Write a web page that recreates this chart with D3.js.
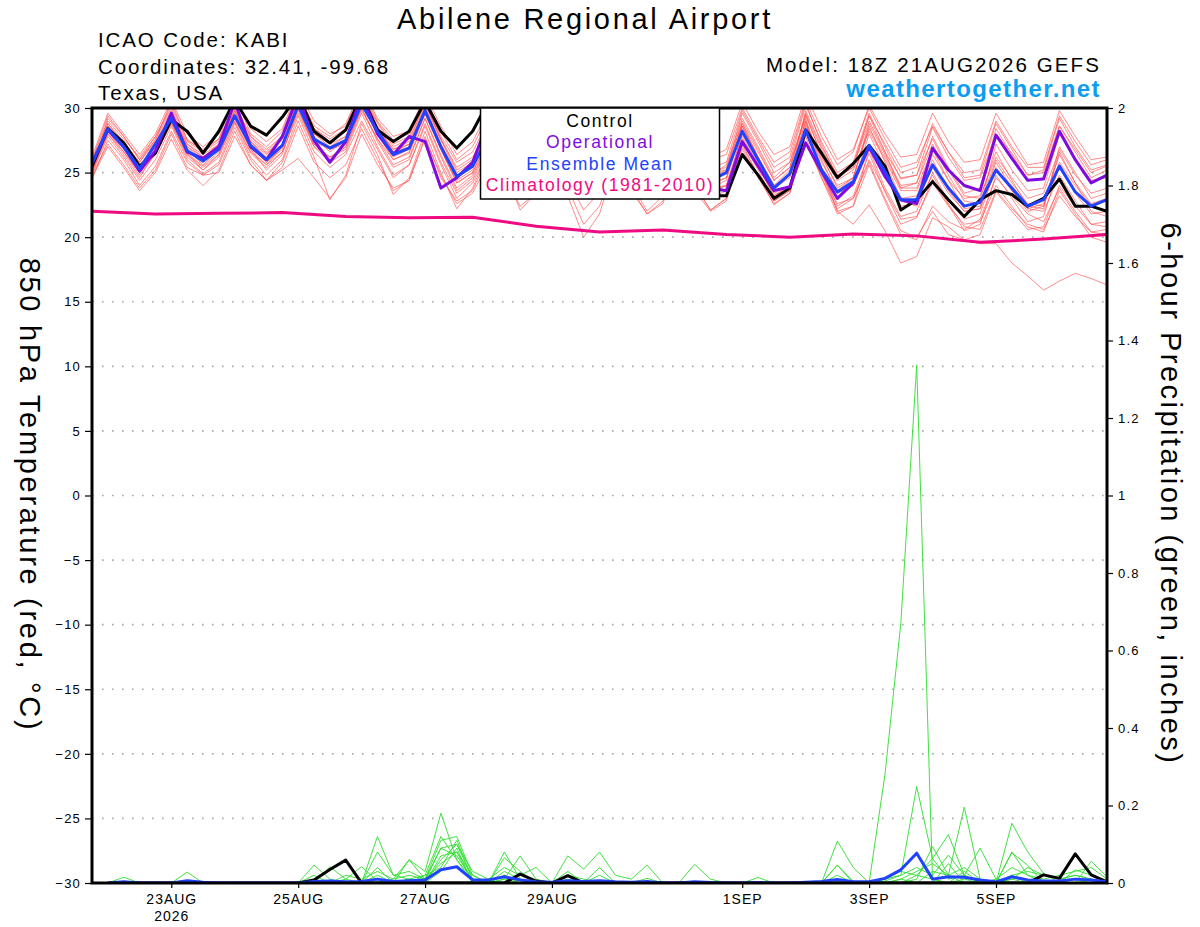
<!DOCTYPE html>
<html>
<head>
<meta charset="utf-8">
<script src="https://d3js.org/d3.v7.min.js"></script>
<style>
body { margin: 0; background: #fff; }
text { font-family: "Liberation Sans", Arial, sans-serif; }
</style>
</head>
<body>
<div id="chart"></div>
<script>
// model run 18Z 21AUG2026, one value every 6 hours (65 steps)
var runStart = Date.UTC(2026, 7, 21, 18);
var stepHours = 6;

// 850 hPa temperature, deg C
var tempControl = [25.5,
  28.4, 27.3, 25.5, 26.5,  29.1, 28.2, 26.5, 28.2,  30.6, 28.6, 27.9, 29.3,  31.0, 28.2, 27.3, 28.3,
  31.0, 28.3, 27.4, 28.2,  30.5, 28.2, 26.9, 28.2,  30.5, 28.5, 26.5, 26.0,  27.8, 26.0, 24.5, 24.8,
  27.0, 25.8, 24.6, 25.0,  26.8, 24.8, 23.2, 23.2,  26.4, 24.8, 23.0, 23.8,  28.3, 26.5, 24.6, 25.7,
  27.1, 25.5, 22.1, 22.9,  24.3, 22.9, 21.6, 22.9,  23.6, 23.3, 22.4, 23.0,  24.5, 22.4, 22.4, 22.0];

var tempOper = [25.7,
  28.3, 27.0, 25.1, 26.7,  29.6, 26.6, 26.1, 27.0,  30.5, 27.0, 26.0, 27.8,  31.0, 27.5, 25.8, 27.4,
  31.0, 28.0, 26.4, 27.8,  27.4, 23.8, 24.6, 25.8,  29.0, 27.5, 25.2, 25.5,  28.3, 26.5, 24.8, 25.5,
  27.8, 26.2, 24.8, 25.0,  27.2, 25.0, 23.8, 23.6,  27.4, 25.5, 23.6, 23.9,  27.3, 25.1, 23.0, 24.2,
  27.0, 24.7, 22.9, 22.6,  26.9, 25.2, 24.0, 23.6,  27.9, 26.1, 24.4, 24.5,  28.2, 26.0, 24.2, 24.8];

var tempMean = [25.7,
  28.4, 27.0, 25.3, 27.2,  29.2, 26.7, 25.9, 26.8,  29.4, 27.1, 26.0, 27.1,  30.2, 27.6, 26.9, 27.5,
  30.3, 28.2, 26.4, 26.9,  29.8, 27.0, 24.7, 25.5,  27.8, 27.0, 25.6, 25.8,  28.0, 26.8, 25.2, 25.6,
  27.8, 26.6, 25.0, 25.4,  27.5, 25.8, 24.4, 25.0,  28.2, 26.0, 23.8, 24.9,  28.3, 25.2, 23.5, 24.3,
  27.1, 25.1, 22.9, 22.9,  25.6, 23.8, 22.4, 22.7,  25.2, 23.8, 22.4, 22.9,  25.5, 23.5, 22.4, 22.9];

var tempMembers = [
  [25.0, 29.2,27.8,26.0,27.5, 30.5,27.5,26.8,27.6, 31.0,28.0,27.0,28.2, 31.2,28.6,27.8,28.8, 31.5,29.0,27.5,28.0, 30.8,28.2,26.0,27.0,
   29.5,28.0,26.4,27.0, 29.8,27.4,25.8,26.6, 29.0,27.2,25.5,26.4, 28.6,26.5,24.8,25.6, 29.2,27.0,24.6,25.8, 30.2,27.4,25.0,25.8,
   29.6,27.0,24.5,24.8, 28.5,26.2,24.4,24.6, 28.0,26.5,24.8,25.0, 28.6,26.8,25.0,25.5],
  [24.5, 27.5,26.0,24.0,25.5, 28.2,25.8,24.8,25.6, 28.5,26.0,24.4,25.8, 29.0,26.2,22.9,24.8, 28.8,26.4,23.3,24.6, 28.2,25.0,22.2,23.8,
   26.8,25.0,23.0,24.0, 27.2,24.5,22.1,23.5, 26.5,24.2,22.0,23.2, 26.8,24.0,22.1,23.0, 27.0,24.8,22.5,23.4, 28.0,25.2,22.4,23.2,
   26.5,23.5,21.0,21.5, 24.5,22.5,20.5,21.0, 24.8,23.0,21.2,21.6, 25.6,23.4,21.8,22.0],
  [25.2, 28.0,26.6,25.0,26.5, 29.0,26.5,25.5,26.6, 29.2,26.8,25.6,27.0, 30.0,27.2,26.0,27.0, 30.0,27.6,26.0,26.5, 29.5,26.8,24.2,25.0,
   27.5,26.4,25.0,25.2, 27.6,26.0,24.6,25.0, 27.4,25.8,24.0,24.6, 27.0,25.2,23.8,24.0, 27.6,25.4,23.4,24.0, 27.2,24.8,22.6,23.0,
   25.8,23.0,20.5,20.0, 22.0,20.2,19.8,19.5, 19.5,18.0,17.0,15.9, 16.6,17.2,16.8,16.3],
  [25.5, 28.6,27.2,25.6,27.0, 29.5,27.0,26.2,27.2, 29.8,27.4,26.4,27.6, 30.6,28.0,27.2,27.8, 30.8,28.5,26.8,27.2, 30.2,27.5,25.0,25.8,
   28.2,27.4,26.0,26.2, 28.4,27.2,25.6,26.0, 28.2,26.8,25.4,25.8, 28.0,26.0,24.6,25.0, 28.6,26.2,24.0,24.8, 29.0,25.0,22.0,21.0,
   22.5,20.5,18.0,18.5, 21.5,20.8,19.8,20.2, 23.5,22.0,20.6,20.8, 24.0,22.4,21.0,21.2],
  [25.8, 28.8,27.4,25.8,27.6, 29.8,27.2,26.4,27.2, 30.0,27.6,26.5,27.6, 30.8,28.0,27.4,28.2, 31.0,28.8,27.0,27.6, 30.4,27.6,25.4,26.2,
   28.4,27.6,26.2,26.4, 28.6,27.4,25.8,26.2, 28.4,27.2,25.6,26.0, 28.2,26.4,25.0,25.4, 28.8,26.6,24.4,25.4, 29.5,26.4,24.4,25.2,
   28.2,26.0,23.6,23.6, 26.4,24.4,23.0,23.2, 26.2,24.6,23.0,23.4, 26.8,24.8,23.4,23.8],
  [25.0, 28.0,26.4,24.6,26.6, 28.8,26.2,25.2,26.2, 28.9,26.5,25.4,26.6, 29.6,27.0,26.2,26.8, 29.8,27.6,25.6,26.2, 29.2,26.4,23.8,24.8,
   27.2,26.4,25.0,25.2, 27.5,26.0,24.4,24.8, 27.2,25.8,24.2,24.6, 26.9,25.0,23.6,24.0, 27.8,25.4,23.2,24.0, 28.4,25.4,23.4,24.0,
   27.2,24.8,22.4,22.6, 25.4,23.4,22.0,22.2, 25.2,23.6,22.0,22.4, 25.8,24.0,22.5,22.8],
  [26.0, 29.0,27.6,26.2,27.8, 30.2,27.6,26.6,27.4, 30.4,27.8,26.8,27.8, 31.0,28.4,27.6,28.4, 31.2,28.9,27.2,27.8, 30.6,27.8,25.8,26.6,
   29.0,28.0,26.8,27.0, 29.6,28.2,26.6,27.0, 29.4,28.0,26.4,26.8, 29.0,27.4,26.0,26.4, 30.0,27.8,25.8,26.6, 30.6,27.8,25.6,26.6,
   30.2,28.0,26.2,26.4, 29.6,27.4,25.8,26.0, 29.6,27.6,25.6,25.8, 29.8,27.8,26.0,26.2],
  [24.8, 27.2,25.6,23.8,25.2, 28.0,25.4,24.8,25.0, 27.8,25.6,24.4,25.2, 26.1,24.6,23.0,24.6, 28.0,25.6,23.8,24.4, 27.8,24.6,22.8,23.6,
   26.4,24.8,22.4,23.4, 26.0,23.8,21.0,22.4, 25.8,23.8,21.8,22.8, 26.2,23.6,22.0,22.8, 26.8,24.6,22.6,23.4, 27.4,24.6,21.8,22.4,
   26.8,23.8,21.6,22.0, 25.0,22.8,21.4,21.8, 25.4,23.6,22.2,22.0, 24.8,22.8,21.0,20.8],
  [25.4, 28.4,27.0,25.4,27.0, 29.6,26.8,25.6,26.8, 29.6,27.0,25.8,27.0, 30.4,27.8,26.6,27.6, 30.4,28.0,26.2,26.8, 29.6,26.8,24.4,25.2,
   27.8,27.2,25.8,26.0, 28.2,26.8,25.2,25.6, 27.8,26.4,24.8,25.2, 27.6,25.6,24.2,24.6, 28.4,26.0,23.8,24.6, 29.8,27.0,24.8,25.4,
   29.0,26.6,24.6,24.8, 27.6,25.2,23.2,23.0, 26.6,24.4,22.4,22.2, 27.0,25.0,23.0,23.4],
  [25.2, 28.2,26.8,25.0,26.8, 29.0,26.4,25.4,26.4, 29.4,26.8,25.2,26.4, 30.0,27.0,25.8,26.6, 29.6,27.0,24.8,25.6, 28.6,25.6,23.0,24.2,
   26.6,25.2,22.1,23.4, 26.2,23.2,20.0,21.8, 25.8,23.6,21.8,22.6, 26.4,24.0,22.1,23.0, 27.2,24.8,22.8,23.6, 28.6,26.2,24.0,24.6,
   28.4,26.2,23.8,23.8, 26.8,24.4,22.2,22.4, 27.2,25.2,23.6,23.8, 28.0,26.0,24.4,24.6],
  [25.6, 28.8,27.2,25.4,27.4, 29.4,27.0,26.0,27.0, 29.8,27.4,26.2,27.2, 30.4,27.6,26.8,27.4, 30.6,28.6,26.6,27.2, 30.0,27.2,24.8,25.6,
   28.2,27.0,25.6,26.0, 28.8,27.4,25.8,26.4, 28.6,27.0,25.2,25.8, 28.4,26.6,25.0,25.2, 29.6,27.4,25.0,25.8, 29.2,25.4,22.0,22.4,
   25.6,22.8,20.2,19.8, 22.4,21.2,20.6,21.4, 24.6,23.2,21.8,21.2, 23.8,22.0,20.4,20.2],
  [25.3, 28.6,27.0,25.2,27.2, 29.2,26.6,25.8,26.8, 29.2,27.0,25.8,26.8, 30.2,27.4,26.8,27.2, 30.2,28.0,26.0,26.6, 29.8,26.8,24.2,25.0,
   27.6,26.8,25.2,25.6, 28.0,26.4,24.8,25.4, 27.8,26.2,24.6,25.0, 27.4,25.6,24.0,24.6, 28.8,26.2,24.0,25.2, 29.4,26.4,23.8,24.6,
   28.6,25.8,23.0,23.2, 26.0,23.6,22.0,22.2, 25.8,23.8,22.2,22.6, 26.4,24.2,22.6,23.0],
  [24.9, 27.8,26.2,24.4,26.0, 28.6,26.0,24.9,25.8, 28.8,26.2,24.8,26.0, 29.4,26.6,25.4,26.4, 29.0,26.8,24.6,25.6, 28.8,25.8,23.4,24.4,
   27.0,25.8,24.4,24.8, 27.4,25.6,23.8,24.4, 27.0,25.4,23.4,24.0, 26.6,24.8,23.0,23.6, 27.4,25.2,22.8,23.6, 28.8,25.8,23.6,24.6,
   28.8,26.4,24.0,24.2, 27.8,25.4,23.4,23.8, 28.4,26.4,24.4,24.6, 28.6,26.6,24.6,25.2],
  [25.9, 29.4,27.8,26.0,27.8, 30.0,27.4,26.6,27.6, 30.2,27.8,26.6,27.8, 31.2,28.4,27.4,28.2, 30.8,28.4,26.8,27.4, 30.4,27.6,25.2,26.0,
   28.8,27.8,26.4,26.8, 29.2,27.6,26.0,26.4, 29.0,27.4,25.8,26.2, 28.8,27.0,25.4,25.8, 29.8,27.6,25.4,26.2, 30.4,27.2,24.6,25.4,
   29.4,26.6,23.8,24.2, 27.2,24.8,22.8,22.6, 26.0,24.2,22.6,22.4, 26.6,24.2,22.0,21.6],
  [26.2, 29.6,28.0,26.4,28.0, 30.6,28.0,27.0,28.0, 30.8,28.4,27.4,28.4, 31.4,29.0,28.0,28.6, 31.6,29.2,27.8,28.2, 31.0,28.6,26.4,27.4,
   29.8,28.8,27.4,27.6, 30.2,28.6,27.0,27.4, 30.0,28.4,26.8,27.2, 29.6,27.8,26.2,26.8, 30.4,28.2,26.4,27.0, 31.0,28.4,26.0,26.8,
   30.0,27.6,25.4,25.8, 28.6,26.6,25.0,25.2, 29.0,27.0,25.4,25.4, 29.4,27.4,25.6,26.0],
  [24.6, 27.0,25.4,23.6,25.0, 27.6,25.2,24.0,25.2, 28.2,25.6,24.4,25.4, 28.6,25.8,24.6,25.6, 28.4,26.0,23.6,24.4, 27.6,24.8,22.6,23.4,
   25.8,24.6,23.4,23.8, 26.6,24.8,23.0,23.8, 26.8,25.0,23.4,24.0, 27.0,25.0,23.4,24.0, 28.0,25.6,23.2,24.0, 27.8,24.6,22.2,23.0,
   26.0,23.6,21.4,21.6, 24.2,22.4,21.0,21.2, 24.0,22.4,20.8,20.4, 23.6,21.8,20.0,19.6],
  [25.6, 28.6,27.2,25.8,27.4, 29.6,27.2,26.2,27.0, 29.8,27.4,26.0,27.2, 30.6,28.0,27.0,27.8, 30.8,28.4,26.6,27.0, 30.0,27.2,24.6,25.4,
   28.0,27.2,25.8,26.2, 28.6,27.2,25.4,25.8, 28.2,26.8,25.2,25.6, 28.0,26.2,24.6,25.2, 29.0,26.8,24.4,25.4, 29.6,26.8,24.8,25.6,
   29.4,27.2,25.0,25.4, 28.8,26.6,24.6,24.8, 28.8,26.8,24.8,25.2, 29.2,27.0,25.2,25.6],
  [25.1, 28.2,26.6,24.8,26.4, 28.8,26.4,25.2,26.4, 29.0,26.6,25.6,26.6, 29.8,27.2,26.2,27.0, 30.0,27.4,25.4,26.0, 29.2,26.2,23.6,24.6,
   27.2,26.0,24.6,25.0, 27.8,26.2,24.6,25.2, 27.6,26.0,24.4,24.8, 27.2,25.4,23.8,24.4, 28.6,26.2,23.8,24.8, 29.0,26.0,23.4,24.0,
   28.0,25.4,22.8,22.4, 24.8,22.6,20.8,20.6, 23.6,22.2,21.0,20.6, 23.2,21.6,20.4,20.6]
];

// 1981-2010 climatology, one value per day at 18Z
var climDaily = [22.0, 21.8, 21.85, 21.9, 21.6, 21.5, 21.55, 20.85, 20.4, 20.55, 20.2, 20.0, 20.25, 20.1, 19.6, 19.85, 20.2];

// 6-hour precipitation (inches), steps 1..64
var precipControl = [
  0,0,0,0,0,0,0,0,  0,0,0,0,0,0.008,0.035,0.059,  0,0,0,0,0,0,0,0,  0,0,0.023,0.005,0,0.019,0,0,
  0,0,0,0,0,0,0,0,  0,0,0,0,0,0,0,0,  0,0,0,0,0,0,0,0,  0,0,0,0.021,0.012,0.075,0.021,0.003];

var precipMean = [
  0,0.003,0,0,0,0.006,0.002,0,  0,0,0,0,0,0.004,0.005,0.003,  0.004,0.01,0.004,0.006,0.008,0.034,0.042,0.008,
  0.008,0.016,0.008,0.003,0.002,0.006,0.004,0.006,  0.003,0.002,0.004,0,0,0.003,0.001,0,  0,0.001,0,0,0.002,0.004,0.009,0.003,
  0.003,0.012,0.034,0.077,0.01,0.016,0.015,0.008,  0.003,0.016,0.008,0.005,0.005,0.01,0.008,0.003];

var precipMembers = [
  [0,0,0,0,0,0,0,0, 0,0,0,0,0,0.046,0.01,0, 0,0.02,0,0.01,0,0.06,0.1,0.01, 0,0.02,0,0,0,0,0,0,
   0,0,0,0,0,0,0,0, 0,0,0,0,0,0,0.02,0, 0,0.28,0.67,1.337,0.01,0,0.01,0, 0,0.01,0,0,0,0,0.01,0],
  [0,0.015,0,0,0,0,0,0, 0,0,0,0,0,0,0.042,0.01, 0,0.12,0.02,0.01,0.005,0.09,0.07,0.01, 0,0.08,0.01,0,0,0,0,0,
   0,0,0,0,0,0,0,0, 0,0,0,0,0,0,0.046,0.005, 0,0.005,0.02,0.249,0.063,0.01,0.02,0, 0,0.08,0.02,0,0,0.01,0,0],
  [0,0,0,0,0,0.028,0,0, 0,0,0,0,0,0,0,0.01, 0.042,0.005,0,0.06,0.03,0.18,0.06,0.01, 0,0.01,0.07,0.01,0,0.07,0.036,0.08,
   0.02,0.01,0.046,0,0,0,0,0, 0,0,0,0,0,0,0.108,0.04, 0,0,0,0.01,0.094,0.02,0.196,0.01, 0,0.154,0.08,0.025,0,0,0.056,0.016],
  [0,0,0,0,0,0,0,0, 0,0,0,0,0,0.02,0,0, 0,0.08,0.02,0.03,0.01,0.11,0.12,0.02, 0,0.065,0.03,0,0,0.01,0,0.02,
   0,0,0.012,0,0,0.048,0.01,0, 0,0.014,0,0,0,0,0.046,0, 0,0.01,0.03,0.02,0.063,0.125,0.02,0, 0,0.078,0.046,0,0,0.034,0.02,0],
  [0,0,0,0,0,0,0,0, 0,0,0,0,0,0,0,0.02, 0.01,0.03,0.01,0.06,0.01,0.09,0.1,0.03, 0.01,0.04,0.02,0.04,0,0.02,0.01,0,
   0,0,0,0,0,0,0,0, 0,0,0,0,0,0,0,0, 0,0.01,0.02,0.04,0.02,0.072,0.02,0.09, 0.01,0.04,0.02,0.01,0.02,0.03,0.04,0.01],
  [0,0,0,0,0,0,0,0, 0,0,0,0,0,0,0,0, 0,0,0.01,0.02,0.01,0.05,0.08,0.02, 0,0.03,0.01,0,0,0,0,0,
   0,0,0,0,0,0,0,0, 0,0,0,0,0,0,0,0, 0,0,0.01,0.03,0.05,0.02,0,0, 0,0.02,0.03,0.02,0.01,0.02,0.01,0],
  [0,0,0,0,0,0,0,0, 0,0,0,0,0,0,0,0, 0,0.01,0,0.01,0.02,0.04,0.11,0.01, 0,0,0,0,0,0,0,0,
   0,0,0,0,0,0,0,0, 0,0,0,0,0,0,0,0, 0,0,0,0,0.03,0.02,0.04,0.01, 0,0.01,0.04,0.02,0.01,0.02,0.01,0],
  [0,0,0,0,0,0,0,0, 0,0,0,0,0,0,0,0, 0,0,0,0,0,0.03,0.09,0, 0,0.01,0,0,0,0,0,0,
   0,0,0,0,0,0,0,0, 0,0,0,0,0,0,0,0, 0,0,0,0.02,0.01,0,0,0, 0,0,0,0,0,0,0,0],
  [0,0,0,0,0,0,0,0, 0,0,0,0,0,0,0,0, 0,0.04,0,0,0,0.07,0.08,0, 0,0.02,0,0,0,0,0,0,
   0,0,0,0,0,0,0,0, 0,0,0,0,0,0,0,0, 0,0,0.01,0,0,0,0.03,0, 0,0.02,0,0,0,0,0,0],
  [0,0,0,0,0,0,0,0, 0,0,0,0,0,0.01,0,0, 0,0,0,0,0.02,0.12,0.06,0, 0,0,0,0,0,0.03,0,0.04,
   0,0,0,0,0,0,0,0, 0,0,0,0,0,0,0,0, 0,0,0,0,0,0.05,0,0, 0.01,0,0,0,0,0,0,0]
];

var tempTicks = [-30, -25, -20, -15, -10, -5, 0, 5, 10, 15, 20, 25, 30];
var precipTicks = [0, 0.2, 0.4, 0.6, 0.8, 1, 1.2, 1.4, 1.6, 1.8, 2];
var dateTicks = ["2026-08-23", "2026-08-25", "2026-08-27", "2026-08-29", "2026-09-01", "2026-09-03", "2026-09-05"];
var monthNames = ["JAN","FEB","MAR","APR","MAY","JUN","JUL","AUG","SEP","OCT","NOV","DEC"];

var plot = {left: 92, right: 1107, top: 108, bottom: 883};
var colors = {control: "#000000", oper: "#7f0be0", mean: "#2142ff", clim: "#ee0a80",
              member: "#ff4a4a", rain: "#2edc2e", site: "#0a9df2"};

function stepTime(i) { return new Date(runStart + i * stepHours * 3600e3); }

var svg = d3.select("#chart").append("svg")
    .attr("width", 1200)
    .attr("height", 927);

var x = d3.scaleUtc()
    .domain([stepTime(0), stepTime(64)])
    .range([plot.left, plot.right]);
var yT = d3.scaleLinear().domain([-30, 30]).range([plot.bottom, plot.top]);
var yP = d3.scaleLinear().domain([0, 2]).range([plot.bottom, plot.top]);

svg.append("clipPath").attr("id", "plotclip")
  .append("rect")
    .attr("x", plot.left).attr("y", plot.top)
    .attr("width", plot.right - plot.left).attr("height", plot.bottom - plot.top);

// dotted grid on temperature ticks
svg.append("g").selectAll("line")
  .data(tempTicks.filter(function(t) { return t > -30 && t < 30; }))
  .join("line")
    .attr("x1", plot.left).attr("x2", plot.right)
    .attr("y1", function(d) { return yT(d); })
    .attr("y2", function(d) { return yT(d); })
    .attr("stroke", "#a8a8a8")
    .attr("stroke-width", 1.6)
    .attr("stroke-dasharray", "1.6,8.4");

var lines = svg.append("g").attr("clip-path", "url(#plotclip)");

var tempLine = d3.line()
    .x(function(d, i) { return x(stepTime(i)); })
    .y(function(d) { return yT(d); });
var rainLine = d3.line()
    .x(function(d, i) { return x(stepTime(i + 1)); })
    .y(function(d) { return yP(d); });
var climLine = d3.line()
    .x(function(d, i) { return x(stepTime(i * 4)); })
    .y(function(d) { return yT(d); });

lines.selectAll(".member").data(tempMembers).join("path")
    .attr("class", "member")
    .attr("d", tempLine)
    .attr("fill", "none")
    .attr("stroke", colors.member)
    .attr("stroke-opacity", 0.8)
    .attr("stroke-width", 0.8);

lines.selectAll(".rain").data(precipMembers).join("path")
    .attr("class", "rain")
    .attr("d", rainLine)
    .attr("fill", "none")
    .attr("stroke", colors.rain)
    .attr("stroke-width", 0.9);

lines.append("path").datum(climDaily)
    .attr("d", climLine)
    .attr("fill", "none")
    .attr("stroke", colors.clim)
    .attr("stroke-width", 3);

function thick(data, gen, color) {
  lines.append("path").datum(data)
      .attr("d", gen)
      .attr("fill", "none")
      .attr("stroke", color)
      .attr("stroke-width", 3)
      .attr("stroke-linejoin", "round");
}
thick(precipControl, rainLine, colors.control);
thick(precipMean, rainLine, colors.mean);
thick(tempControl, tempLine, colors.control);
thick(tempOper, tempLine, colors.oper);
thick(tempMean, tempLine, colors.mean);

// axes
var axL = svg.append("g")
    .attr("transform", "translate(" + plot.left + ",0)")
    .call(d3.axisLeft(yT).tickValues(tempTicks).tickSize(7).tickPadding(4));
var axR = svg.append("g")
    .attr("transform", "translate(" + plot.right + ",0)")
    .call(d3.axisRight(yP).tickValues(precipTicks).tickSize(6).tickPadding(5)
      .tickFormat(function(d) { return String(d); }));
var axB = svg.append("g")
    .attr("transform", "translate(0," + plot.bottom + ")")
    .call(d3.axisBottom(x)
      .tickValues(dateTicks.map(function(s) { return new Date(s + "T00:00:00Z"); }))
      .tickSize(5).tickPadding(6)
      .tickFormat(function(d) { return d.getUTCDate() + monthNames[d.getUTCMonth()]; }));

[axL, axR, axB].forEach(function(a) {
  a.select(".domain").remove();
  a.selectAll(".tick line").attr("stroke", "#000").attr("stroke-width", 1.2);
  a.selectAll("text").attr("fill", "#000").attr("font-family", "Liberation Sans, Arial, sans-serif");
});
axL.selectAll("text").attr("font-size", 13).attr("letter-spacing", 1.2);
axR.selectAll("text").attr("font-size", 13).attr("letter-spacing", 1.2);
axB.selectAll("text").attr("font-size", 14).attr("letter-spacing", 1);
axB.select(".tick text").append("tspan")
    .attr("x", 0).attr("dy", "1.25em").text("2026");

// plot frame
svg.append("rect")
    .attr("x", plot.left).attr("y", plot.top)
    .attr("width", plot.right - plot.left).attr("height", plot.bottom - plot.top)
    .attr("fill", "none").attr("stroke", "#000").attr("stroke-width", 3);

// axis titles
svg.append("text")
    .attr("transform", "translate(20,495) rotate(90)")
    .attr("text-anchor", "middle")
    .attr("font-size", 29).attr("letter-spacing", 2.7)
    .text("850 hPa Temperature (red, °C)");
svg.append("text")
    .attr("transform", "translate(1161,494) rotate(90)")
    .attr("text-anchor", "middle")
    .attr("font-size", 29).attr("letter-spacing", 2.5)
    .text("6-hour Precipitation (green, inches)");

// header
svg.append("text").attr("x", 585).attr("y", 29)
    .attr("text-anchor", "middle").attr("font-size", 29).attr("letter-spacing", 2.7)
    .text("Abilene Regional Airport");
var info = ["ICAO Code: KABI", "Coordinates: 32.41, -99.68", "Texas, USA"];
svg.append("g").selectAll("text").data(info).join("text")
    .attr("x", 98)
    .attr("y", function(d, i) { return 47 + i * 26.5; })
    .attr("font-size", 20.5).attr("letter-spacing", 1.9)
    .text(function(d) { return d; });
svg.append("text").attr("x", 1101).attr("y", 72)
    .attr("text-anchor", "end").attr("font-size", 20.5).attr("letter-spacing", 2.1)
    .text("Model: 18Z 21AUG2026 GEFS");
svg.append("text").attr("x", 1101).attr("y", 97)
    .attr("text-anchor", "end").attr("font-size", 24).attr("font-weight", "bold")
    .attr("letter-spacing", 1.4)
    .attr("fill", colors.site)
    .text("weathertogether.net");

// legend
var legendItems = [
  {label: "Control", color: colors.control},
  {label: "Operational", color: colors.oper},
  {label: "Ensemble Mean", color: colors.mean},
  {label: "Climatology (1981-2010)", color: colors.clim}
];
var legend = svg.append("g");
legend.append("rect")
    .attr("x", 480.5).attr("y", plot.top)
    .attr("width", 239).attr("height", 91)
    .attr("fill", "#fff").attr("stroke", "#000").attr("stroke-width", 1.5);
legend.selectAll("text").data(legendItems).join("text")
    .attr("x", 600)
    .attr("y", function(d, i) { return 127 + i * 21.3; })
    .attr("text-anchor", "middle")
    .attr("font-size", 17.5).attr("letter-spacing", 1.6)
    .attr("fill", function(d) { return d.color; })
    .text(function(d) { return d.label; });
</script>
</body>
</html>
